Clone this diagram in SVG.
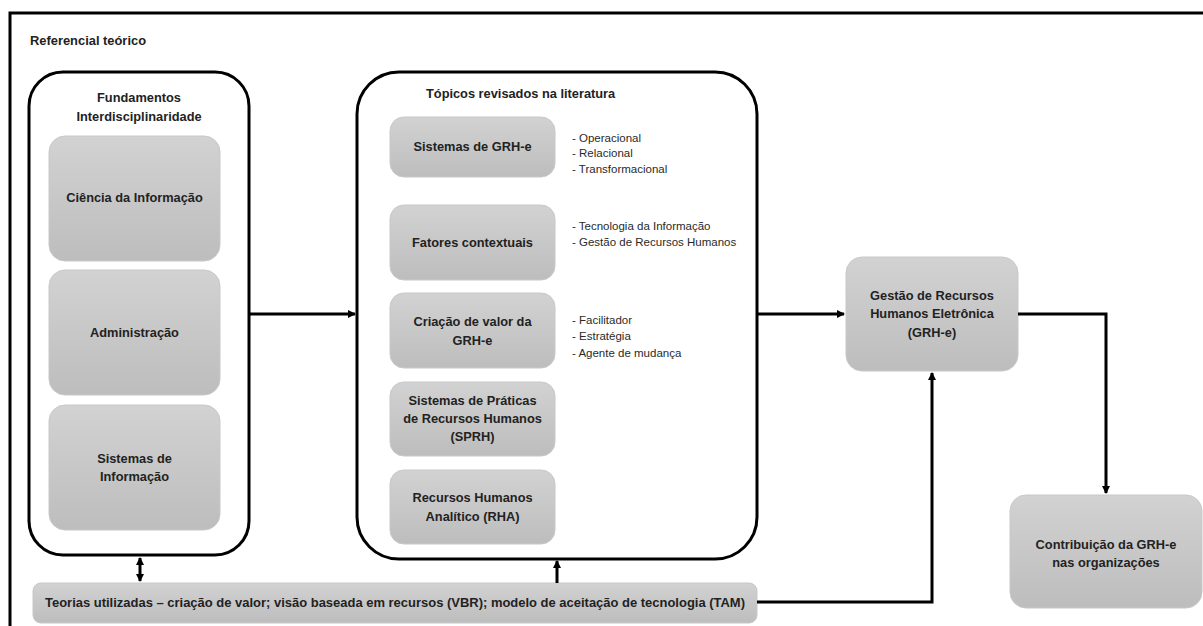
<svg xmlns="http://www.w3.org/2000/svg" width="1203" height="626" viewBox="0 0 1203 626">
<defs>
<linearGradient id="g" x1="0" y1="0" x2="0" y2="1">
<stop offset="0" stop-color="#d2d2d2"/>
<stop offset="1" stop-color="#bdbdbd"/>
</linearGradient>
<marker id="ah" markerWidth="8" markerHeight="8" refX="7" refY="4" orient="auto" markerUnits="userSpaceOnUse">
<path d="M0,0 L8,4 L0,8 Z" fill="#000"/>
</marker>
<marker id="as" markerWidth="8" markerHeight="8" refX="1" refY="4" orient="auto" markerUnits="userSpaceOnUse">
<path d="M8,0 L0,4 L8,8 Z" fill="#000"/>
</marker>
</defs>
<style>
.box{fill:url(#g);stroke:#c8c8c8;stroke-width:1}
.cont{fill:#fff;stroke:#000;stroke-width:3}
.t{font-family:"Liberation Sans",Arial,sans-serif;font-size:12.8px;font-weight:bold;fill:#222;text-anchor:middle}
.b{font-family:"Liberation Sans",Arial,sans-serif;font-size:11.5px;fill:#2a2a2a}
.c{fill:none;stroke:#000;stroke-width:3}
</style>
<rect width="1203" height="626" fill="#fff"/>
<g id="frame">
<path d="M10,626 L10,13 L1203,13" fill="none" stroke="#000" stroke-width="3"/>
<text class="t" x="30" y="45" style="text-anchor:start" textLength="116" lengthAdjust="spacingAndGlyphs">Referencial teórico</text>
</g>
<g id="fundamentos">
<rect class="cont" x="29" y="72" width="220" height="483" rx="34"/>
<text class="t" x="139" y="102">Fundamentos</text>
<text class="t" x="139" y="121">Interdisciplinaridade</text>
</g>
<g id="ciencia"><rect class="box" x="49" y="136" width="171" height="125" rx="16"/><text class="t" x="134.5" y="202">Ciência da Informação</text></g>
<g id="administracao"><rect class="box" x="49" y="270" width="171" height="125" rx="16"/><text class="t" x="134.5" y="337">Administração</text></g>
<g id="sistemas-info"><rect class="box" x="49" y="405" width="171" height="125" rx="16"/><text class="t" x="134.5" y="463">Sistemas de</text><text class="t" x="134.5" y="481">Informação</text></g>
<g id="topicos">
<rect class="cont" x="357" y="72" width="400" height="487" rx="42"/>
<text class="t" x="426" y="98" style="text-anchor:start">Tópicos revisados na literatura</text>
</g>
<g id="sistemas-grhe"><rect class="box" x="390" y="117" width="165" height="60" rx="14"/><text class="t" x="472.5" y="151">Sistemas de GRH-e</text>
<text class="b" x="572" y="142">- Operacional</text><text class="b" x="572" y="157">- Relacional</text><text class="b" x="572" y="173">- Transformacional</text></g>
<g id="fatores"><rect class="box" x="390" y="205" width="165" height="75" rx="14"/><text class="t" x="472.5" y="247">Fatores contextuais</text>
<text class="b" x="572" y="230">- Tecnologia da Informação</text><text class="b" x="572" y="246">- Gestão de Recursos Humanos</text></g>
<g id="criacao"><rect class="box" x="390" y="293" width="165" height="75" rx="14"/><text class="t" x="472.5" y="326">Criação de valor da</text><text class="t" x="472.5" y="345">GRH-e</text>
<text class="b" x="572" y="324">- Facilitador</text><text class="b" x="572" y="340">- Estratégia</text><text class="b" x="572" y="357">- Agente de mudança</text></g>
<g id="sprh"><rect class="box" x="390" y="382" width="165" height="74" rx="14"/><text class="t" x="472.5" y="405">Sistemas de Práticas</text><text class="t" x="472.5" y="423">de Recursos Humanos</text><text class="t" x="472.5" y="441">(SPRH)</text></g>
<g id="rha"><rect class="box" x="390" y="470" width="165" height="74" rx="14"/><text class="t" x="472.5" y="502">Recursos Humanos</text><text class="t" x="472.5" y="521">Analítico (RHA)</text></g>
<g id="grhe"><rect class="box" x="846" y="257" width="172" height="114" rx="16"/><text class="t" x="932" y="300">Gestão de Recursos</text><text class="t" x="932" y="318">Humanos Eletrônica</text><text class="t" x="932" y="337">(GRH-e)</text></g>
<g id="contribuicao"><rect class="box" x="1010" y="495" width="192" height="113" rx="16"/><text class="t" x="1106" y="549">Contribuição da GRH-e</text><text class="t" x="1106" y="567">nas organizações</text></g>
<g id="teorias"><rect class="box" x="33" y="583" width="724" height="40" rx="8"/><text class="t" x="45" y="607" style="text-anchor:start" textLength="700" lengthAdjust="spacingAndGlyphs">Teorias utilizadas – criação de valor; visão baseada em recursos (VBR); modelo de aceitação de tecnologia (TAM)</text></g>
<g id="connectors">
<line class="c" x1="249" y1="314" x2="355" y2="314" marker-end="url(#ah)"/>
<line class="c" x1="757" y1="314" x2="844" y2="314" marker-end="url(#ah)"/>
<polyline class="c" points="1018,314 1106,314 1106,493" marker-end="url(#ah)"/>
<polyline class="c" points="757,602 932,602 932,373" marker-end="url(#ah)"/>
<line class="c" x1="140" y1="558" x2="140" y2="581" marker-start="url(#as)" marker-end="url(#ah)"/>
<line class="c" x1="557" y1="583" x2="557" y2="561" marker-end="url(#ah)"/>
</g>
</svg>
